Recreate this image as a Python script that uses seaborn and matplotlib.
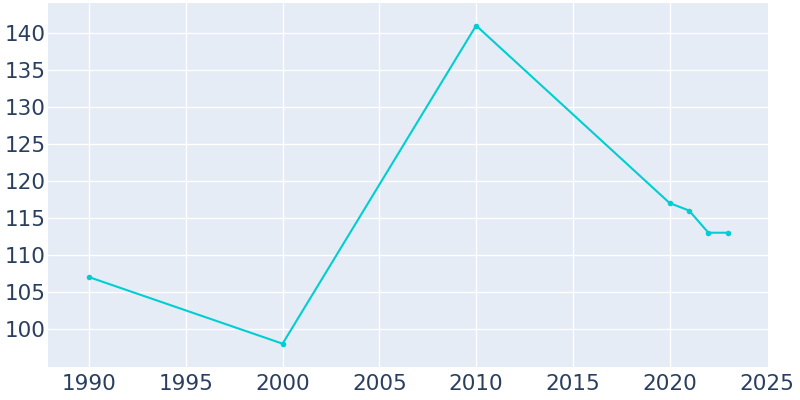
import matplotlib
matplotlib.use("Agg")
import matplotlib.pyplot as plt
import seaborn as sns
import pandas as pd

years = [1990, 2000, 2010, 2020, 2021, 2022, 2023]
population = [107, 98, 141, 117, 116, 113, 113]
x_ticks = [1990, 1995, 2000, 2005, 2010, 2015, 2020, 2025]
y_ticks = [100, 105, 110, 115, 120, 125, 130, 135, 140]

df = pd.DataFrame({"year": years, "population": population})

sns.set_style("darkgrid", {"axes.facecolor": "#E5ECF6", "grid.color": "white"})
plt.rcParams['font.family'] = ['DejaVu Sans']

fig = plt.figure(figsize=(8, 4), dpi=100)
ax = fig.add_axes([0.06, 0.0825, 0.9, 0.91])
sns.lineplot(data=df, x="year", y="population", ax=ax, color="#00CED1",
             linewidth=1.5, marker="o", markersize=4, markeredgewidth=0)

ax.set_xlim(1987.88, 2025.08)
ax.set_ylim(94.85, 144.05)
ax.set_xticks(x_ticks)
ax.set_yticks(y_ticks)
ax.set_xlabel("")
ax.set_ylabel("")
ax.tick_params(axis="both", labelsize=15.5, colors="#2A3F5F", length=0)
ax.tick_params(axis="x", pad=5)
ax.tick_params(axis="y", pad=1.5)
ax.grid(True, color="white", linewidth=1)
ax.get_xgridlines()[-1].set_visible(False)
for s in ax.spines.values():
    s.set_visible(False)

fig.savefig("out.png", dpi=100)
